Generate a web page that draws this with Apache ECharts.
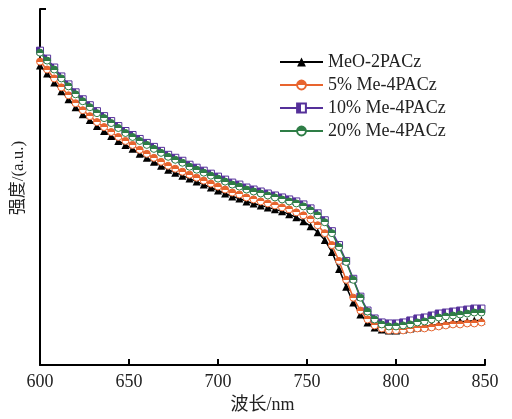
<!DOCTYPE html>
<html><head><meta charset="utf-8">
<script src="https://cdn.jsdelivr.net/npm/echarts@6/dist/echarts.min.js"></script>
<style>html,body{margin:0;padding:0;background:#fff}#c{width:512px;height:419px}</style>
</head><body><div id="c"></div>
<script>
var wavelengths = [600,604,608,612,616,620,624,628,632,636,640,644,648,652,656,660,664,668,672,676,680,684,688,692,696,700,704,708,712,716,720,724,728,732,736,740,744,748,752,756,760,764,768,772,776,780,784,788,792,796,800,804,808,812,816,820,824,828,832,836,840,844,848];
var seriesNames = ['MeO-2PACz','5% Me-4PACz','10% Me-4PACz','20% Me-4PACz'];
var meo2pacz = [302,294,285,276,268,260,253,247,241,236,231,226,222,218,213,209,205,201,197,194,191,188,185,182,179,176,173,170,168,165,163,161,159,157,155,152,149,145,140,134,126,114,97,79,63,51,43,38,36,35,35,36,37,38,39,40,41,42,43,44,44,45,45];
var me4pacz5 = [306,298,289,280,272,264,257,251,245,240,235,230,226,222,217,213,209,205,201,198,195,192,189,186,183,180,177,174,172,169,167,165,163,161,159,157,154,151,147,141,133,121,105,86,68,55,46,40,37,35,35,35,36,37,37,38,39,40,41,41,42,42,43];
var me4pacz10 = [317,309,300,291,283,275,268,262,256,251,246,241,236,232,228,224,220,216,212,209,206,202,199,196,193,190,187,184,182,179,177,175,173,171,169,167,165,162,158,153,146,135,121,105,87,69,55,47,43,42,42,43,45,47,48,50,52,53,54,55,56,57,57];
var me4pacz20 = [315,307,298,289,281,273,266,260,254,249,244,239,234,230,226,222,218,214,210,207,204,200,197,194,191,188,185,182,180,177,175,173,171,169,167,165,163,160,156,151,144,133,119,104,86,68,54,46,41,39,39,40,41,43,44,46,48,49,50,51,52,53,53];
var xTicks = [600,650,700,750,800,850];

function pairs(v){ return wavelengths.map(function(w,i){ return [w, v[i]]; }); }
function halfGrad(c, horiz){
  return {type:'linear', x:0, y:0, x2: horiz?1:0, y2: horiz?0:1,
    colorStops:[{offset:0,color:c},{offset:0.5,color:c},{offset:0.5,color:'#fff'},{offset:1,color:'#fff'}]};
}
var colors = ['#000000','#E8642E','#55309A','#2E7D46'];
var symbols = ['triangle','circle','rect','circle'];
var datas = [meo2pacz, me4pacz5, me4pacz10, me4pacz20];
var series = datas.map(function(d,i){
  var c = colors[i];
  return {
    name: seriesNames[i], type:'line', data: pairs(d),
    symbol: symbols[i], symbolSize: i===0?8:7, showAllSymbol:true,
    lineStyle:{color:c, width:1.5},
    itemStyle:{color: i===0 ? c : halfGrad(c, i===2), borderColor:c, borderWidth: i===0?0:1},
    emphasis:{disabled:true}, animation:false, z: 2+i
  };
});
var serif = '"Liberation Serif","Noto Sans CJK SC",serif';
var chart = echarts.init(document.getElementById('c'), null, {renderer:'canvas'});
chart.setOption({
  animation:false,
  backgroundColor:'#fff',
  textStyle:{fontFamily:serif},
  grid:{left:40, right:27, top:9, bottom:51},
  legend:{
    orient:'vertical', left:274, top:48, itemWidth:43, itemHeight:11, itemGap:5,
    textStyle:{fontSize:18, color:'#222', fontFamily:serif},
    data: seriesNames
  },
  xAxis:{
    type:'value', min:600, max:850, interval:50,
    name:'波长/nm', nameLocation:'middle', nameGap:30,
    nameTextStyle:{fontSize:18, color:'#222', fontFamily:serif},
    axisLine:{lineStyle:{color:'#000', width:2}},
    axisTick:{inside:true, length:6, lineStyle:{color:'#000', width:2}},
    axisLabel:{fontSize:18, color:'#222', margin:8, fontFamily:serif,
      formatter:function(v){ return xTicks.indexOf(v)>=0 ? String(v) : ''; }},
    splitLine:{show:false}
  },
  yAxis:{
    type:'value', min:0, max:359, interval:359,
    name:'强度/(a.u.)', nameLocation:'middle', nameGap:13,
    nameTextStyle:{fontSize:17, color:'#222', fontFamily:serif, padding:[0,0,0,18]},
    axisLine:{show:true, lineStyle:{color:'#000', width:2}},
    axisTick:{show:true, inside:true, length:6, lineStyle:{color:'#000', width:2}},
    axisLabel:{show:false},
    splitLine:{show:false}
  },
  series: series
});
</script></body></html>
